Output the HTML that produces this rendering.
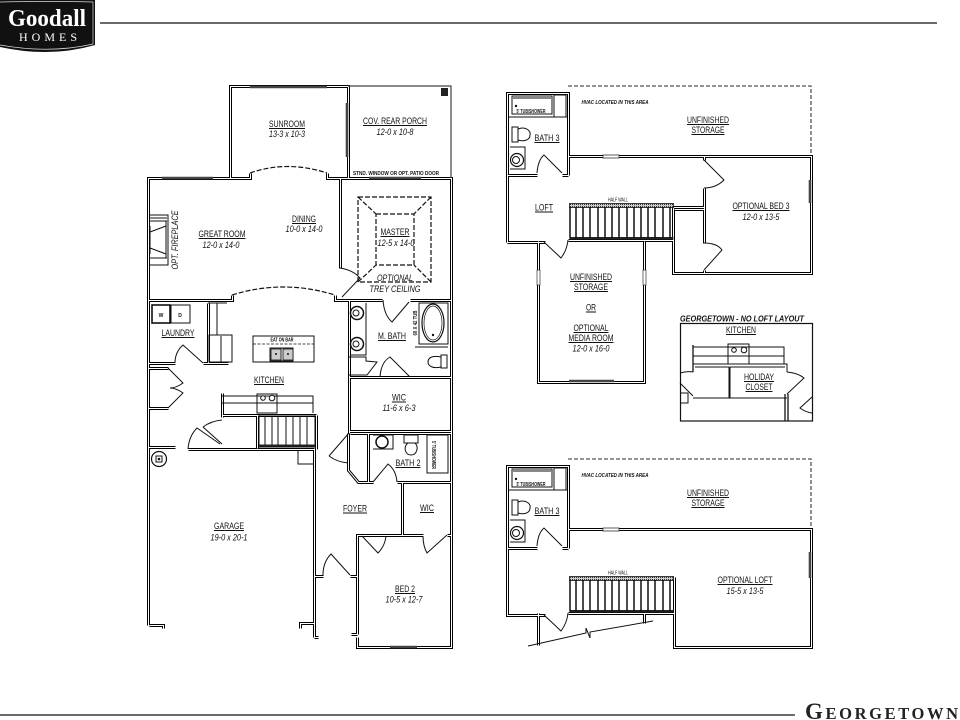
<!DOCTYPE html>
<html><head><meta charset="utf-8"><style>
html,body{margin:0;padding:0;background:#fff;width:960px;height:720px;overflow:hidden}
svg{display:block}
text{font-family:"Liberation Sans",sans-serif;fill:#111}
.l{font-size:9px;text-anchor:middle}
.s{font-size:9px;text-anchor:middle;font-style:italic}
.t{font-size:5px;text-anchor:middle;font-weight:bold}
.th{fill:none;stroke:#111;stroke-width:1}
.ul{fill:none;stroke:#111;stroke-width:.9}
.da{fill:none;stroke:#111;stroke-width:1.2;stroke-dasharray:5 2}
.g{stroke:#444;stroke-width:2.6;fill:none}
</style></head><body>
<svg width="960" height="720" viewBox="0 0 960 720" xmlns="http://www.w3.org/2000/svg">
<defs>
<path id="main" d="M148 625V178H250V173M327 173V178H451V647H357V637M357 634H351M357 634V535H362M386 535H423M447 535H451M230 178V86H348V178M340 178V268M335 295V300H342M382 300H342M410 300H451M148 300H232V295M148 363H175M203 363H228M148 368H168M168 408H148M148 447H175M188 449H314M149 625H163V628M300 628V623H314V449M314 637H318M314 637V449M314 576H323M350 576H357M349 300V433M349 377H451M349 431H451M350 433H368M368 433H451M368 433V482H373M397 482H451M348 433V470L358 482H368M402 482V535M357 535H402M208 303V363M222 393V417M222 415H316M257 415V448M316 415V449"/>
<path id="up1" d="M568 175V93H507V242M507 175H537M562 175H568M568 156H811V273H673V207H704M704 156V160M704 188V243M704 270V273M674 209H704M507 242H545M568 240H673M538 241V382H644V241"/>
<path id="up2" d="M568 548V466H507V615H545M507 548H537M562 548H568M568 529H811V647H674V577M568 613H674M538 613V645M644 613V623"/>
<pattern id="dots" width="2" height="2" patternUnits="userSpaceOnUse"><rect width="2" height="2" fill="#ccc"/><rect width="1" height="1" fill="#333"/></pattern>
<g id="upcommon">
<path class="th" d="M512 96H552V114H512ZM513 98H551M554 95H566V117H554ZM509 117H568M512 127H518V142H512ZM518 129C526 126 531 131 530 135C530 140 524 142 518 140M510 147H525V169H510M537 173Q538 160 544 155L562 173"/>
<circle cx="517" cy="160" r="6.5" fill="#fff" stroke="#111" stroke-width="1.2"/><circle cx="516" cy="160" r="3.5" fill="none" stroke="#111"/>
<circle cx="516" cy="106" r="1.2" fill="#111"/>
<rect x="603" y="155" width="16" height="3" fill="#fff" stroke="#333" stroke-width=".8"/>
<rect x="569.500" y="203.500" width="104" height="4" fill="url(#dots)" stroke="#111" stroke-width=".8"/>
<rect x="569.500" y="237" width="104" height="2.500" fill="#222"/>
<path d="M570 207V238M576 207V238M583 207V238M590 207V238M598 207V238M605 207V238M612 207V238M619 207V238M627 207V238M634 207V238M641 207V238M648 207V238M655 207V238M663 207V238M670 207V238" stroke="#000" stroke-width="1.400" fill="none"/>
<text class="t" x="618" y="201.500" textLength="20" lengthAdjust="spacingAndGlyphs" style="font-weight:normal">HALF WALL</text>
<text class="t" x="615" y="104" font-style="italic" textLength="67" lengthAdjust="spacingAndGlyphs">HVAC LOCATED IN THIS AREA</text>
<text class="t" x="531" y="113" textLength="29" lengthAdjust="spacingAndGlyphs">5' TUB/SHOWER</text>
<text class="l" x="708" y="123" textLength="42" lengthAdjust="spacingAndGlyphs">UNFINISHED</text>
<text class="l" x="708" y="133" textLength="33" lengthAdjust="spacingAndGlyphs">STORAGE</text>
<text class="l" x="547" y="141" textLength="25" lengthAdjust="spacingAndGlyphs">BATH 3</text>
<path class="ul" d="M687 124.500H729M691.500 134.500H724.500M534.500 142.500H559.500"/>
<path d="M568 86H811V155" fill="none" stroke="#555" stroke-width="1.300" stroke-dasharray="4 2"/>
</g>
</defs>

<!-- header -->
<path d="M0 0H95V45Q50 58 0 47Z" fill="#111"/>
<path d="M0 2Q50 1 93 2V44Q50 54 0 45" fill="none" stroke="#ddd" stroke-width=".7"/>
<text x="47" y="26" text-anchor="middle" style="font-family:'Liberation Serif',serif;font-size:24px;font-weight:bold;fill:#fff" textLength="78" lengthAdjust="spacingAndGlyphs">Goodall</text>
<text x="48" y="41" text-anchor="middle" style="font-family:'Liberation Serif',serif;font-size:12px;fill:#fff" textLength="58">HOMES</text>
<path d="M100 23H937" stroke="#111" stroke-width="1.300"/>
<path d="M0 715H795" stroke="#111" stroke-width="1.300"/>
<text x="805" y="719" style="font-family:'Liberation Serif',serif;font-size:16.500px;font-weight:bold;fill:#222" textLength="153"><tspan style="font-size:23px">G</tspan>EORGETOWN</text>

<!-- main floor walls -->
<g transform="translate(.5 .5)">
<use href="#main" fill="none" stroke="#000" stroke-width="3"/>
<use href="#main" fill="none" stroke="#fff" stroke-width="1"/>
</g>
<path d="M348 86H451V178" fill="none" stroke="#444" stroke-width="1.200"/>
<path class="g" d="M250 87H327M347 103V157M162 178H213M369 178H421M390 647H417"/>
<rect x="441" y="88" width="7" height="8" fill="#222"/>
<path class="da" d="M250 173Q287 160 327 173M232 295Q283 279 335 295"/>
<path class="da" d="M358 197H431V282H358ZM376 214H414V265H376ZM358 197L376 214M431 197L414 214M358 282L376 265M431 282L414 265"/>
<!-- doors and fixtures -->
<path class="th" d="M340 268Q353 270 360 278L342 297M383 300Q384 315 392 322L409 302M175 363Q175 352 183 345L203 363M168 368L183 383Q176 388 170 388Q176 388 183 393L168 408M188 449Q189 436 197 428L220 444M203 427Q211 421 222 420M203 427L222 444M329 456L349 433M329 456Q337 462 348 463M373 482L388 464Q396 470 397 482M362 536L378 553Q385 546 386 536M423 536Q423 546 427 553L447 535M323 575Q323 562 331 554L350 575M350 355H366V303M349 357H366V361L377 362L367 375H349M380 377Q381 362 390 357L410 377M419 303H448V344H419ZM415 347H448"/>
<ellipse cx="433" cy="323" rx="11" ry="19" fill="none" stroke="#111" stroke-width="1.200"/><ellipse cx="433" cy="323" rx="9" ry="17" fill="none" stroke="#111" stroke-width=".7"/>
<circle cx="433" cy="335" r="1.200" fill="#111"/>
<circle cx="357" cy="313" r="6.500" fill="#fff" stroke="#111" stroke-width="1.500"/><circle cx="357" cy="344" r="6.500" fill="#fff" stroke="#111" stroke-width="1.500"/>
<circle cx="356" cy="313" r="3" fill="none" stroke="#111"/><circle cx="356" cy="344" r="3" fill="none" stroke="#111"/>
<path class="th" d="M441 355H447V368H441ZM441 357C432 355 428 358 428 362C428 366 433 369 441 367M427 435H448V473H427ZM373 435H393V449H373M404 435H418V443H404ZM408 443C403 447 405 455 411 455C417 455 419 447 415 443"/>
<circle cx="382" cy="442" r="6" fill="#fff" stroke="#111" stroke-width="1.500"/>
<path class="th" d="M171 305H190V323H171ZM227 303H208M217 303V335M209 335H232V362H209ZM221 336V362M253 336H314V362H253ZM270 348H293V361H270ZM281 348V361M222 396H313V413M222 403H313M257 394H277V413H257ZM298 450V464H314M150 215H168V265H150M150 218H167M150 221H167M150 258H167M166 221V258M150 232L166 226M150 248L166 254M150 226V254"/>
<path d="M253 344H314" stroke="#111" stroke-width=".8" stroke-dasharray="3 1.500"/>
<rect x="152" y="305" width="18" height="18" fill="none" stroke="#111" stroke-width="1.600"/>
<rect x="271" y="349" width="10" height="11" fill="#ccc" stroke="#111" stroke-width=".8"/><rect x="283" y="349" width="10" height="11" fill="#ccc" stroke="#111" stroke-width=".8"/>
<circle cx="276" cy="354" r="1" fill="#111"/><circle cx="288" cy="354" r="1" fill="#111"/>
<circle cx="263" cy="398" r="2.300" fill="#fff" stroke="#111"/><circle cx="272" cy="398" r="2.800" fill="#fff" stroke="#111"/>
<path class="th" d="M259 415H315V447H259Z"/>
<path d="M265 416V445M272 416V445M278 416V445M286 416V445M293 416V445M300 416V445M307 416V445" stroke="#111" stroke-width="1" fill="none"/>
<path d="M259 445.500H315" stroke="#222" stroke-width="2"/>
<circle cx="159" cy="459" r="7.500" fill="#fff" stroke="#111" stroke-width="1.200"/><rect x="156" y="456" width="6" height="6" fill="#fff" stroke="#111"/><circle cx="159" cy="459" r="1.300" fill="#111"/>
<!-- main labels -->
<g>
<text class="l" x="287" y="127" textLength="36" lengthAdjust="spacingAndGlyphs">SUNROOM</text>
<text class="s" x="287" y="137" textLength="36" lengthAdjust="spacingAndGlyphs">13-3 x 10-3</text>
<text class="l" x="395" y="124" textLength="64" lengthAdjust="spacingAndGlyphs">COV. REAR PORCH</text>
<text class="s" x="395" y="135" textLength="37" lengthAdjust="spacingAndGlyphs">12-0 x 10-8</text>
<text class="t" x="396" y="174.800" textLength="86" lengthAdjust="spacingAndGlyphs">STND. WINDOW OR OPT. PATIO DOOR</text>
<text class="l" x="304" y="222" textLength="24" lengthAdjust="spacingAndGlyphs">DINING</text>
<text class="s" x="304" y="232" textLength="37" lengthAdjust="spacingAndGlyphs">10-0 x 14-0</text>
<text class="l" x="222" y="237" textLength="47" lengthAdjust="spacingAndGlyphs">GREAT ROOM</text>
<text class="s" x="221" y="248" textLength="37" lengthAdjust="spacingAndGlyphs">12-0 x 14-0</text>
<text class="l" x="395" y="235" textLength="29" lengthAdjust="spacingAndGlyphs">MASTER</text>
<text class="s" x="396" y="246" textLength="37" lengthAdjust="spacingAndGlyphs">12-5 x 14-0</text>
<text class="s" x="395" y="281" textLength="36" lengthAdjust="spacingAndGlyphs">OPTIONAL</text>
<text class="s" x="395" y="292" textLength="51" lengthAdjust="spacingAndGlyphs">TREY CEILING</text>
<text class="s" transform="translate(178 240) rotate(-90)" x="0" y="0" textLength="59" lengthAdjust="spacingAndGlyphs">OPT. FIREPLACE</text>
<text class="l" x="178" y="336" textLength="33" lengthAdjust="spacingAndGlyphs">LAUNDRY</text>
<text class="l" x="269" y="383" textLength="30" lengthAdjust="spacingAndGlyphs">KITCHEN</text>
<text class="l" x="392" y="339" textLength="28" lengthAdjust="spacingAndGlyphs">M. BATH</text>
<text class="l" x="399" y="400.500" textLength="14" lengthAdjust="spacingAndGlyphs">WIC</text>
<text class="s" x="399" y="411" textLength="33" lengthAdjust="spacingAndGlyphs">11-6 x 6-3</text>
<text class="l" x="408" y="466" textLength="25" lengthAdjust="spacingAndGlyphs">BATH 2</text>
<text class="l" x="355" y="511.500" textLength="24" lengthAdjust="spacingAndGlyphs">FOYER</text>
<text class="l" x="427" y="511" textLength="14" lengthAdjust="spacingAndGlyphs">WIC</text>
<text class="l" x="229" y="529" textLength="30" lengthAdjust="spacingAndGlyphs">GARAGE</text>
<text class="s" x="229" y="540.500" textLength="37" lengthAdjust="spacingAndGlyphs">19-0 x 20-1</text>
<text class="l" x="405" y="592" textLength="20" lengthAdjust="spacingAndGlyphs">BED 2</text>
<text class="s" x="404" y="602.500" textLength="37" lengthAdjust="spacingAndGlyphs">10-5 x 12-7</text>
<text class="t" x="282" y="341.500" textLength="23" lengthAdjust="spacingAndGlyphs">EAT ON BAR</text>
<text class="t" x="161" y="317">W</text>
<text class="t" x="180" y="317">D</text>
<text class="t" transform="translate(417 323) rotate(-90)" x="0" y="0" textLength="25" lengthAdjust="spacingAndGlyphs">60 X 42 TUB</text>
<text class="t" transform="translate(432 455) rotate(90)" x="0" y="0" textLength="28" lengthAdjust="spacingAndGlyphs">5' TUB/SHOWER</text>
<path class="ul" d="M269 128.500H305M363 125.500H427M292 223.500H316M198.500 238.500H245.500M380.500 236.500H409.500M161.500 337.500H194.500M254 384.500H284M378 340.500H406M392 402H406M395.500 467.500H420.500M343 513H367M420 512.500H434M214 530.500H244M395 593.500H415"/>
</g>

<!-- upper floor top -->
<g transform="translate(.5 .5)">
<use href="#up1" fill="none" stroke="#000" stroke-width="3"/>
<use href="#up1" fill="none" stroke="#fff" stroke-width="1"/>
</g>
<use href="#upcommon"/>
<path class="th" d="M704 160L724 180Q716 188 704 188M704 243Q717 243 722 250L704 270M544 242L561 258Q567 250 568 240"/>
<rect x="537" y="270" width="3" height="15" fill="#fff" stroke="#333" stroke-width=".7"/>
<rect x="643" y="270" width="3" height="15" fill="#fff" stroke="#333" stroke-width=".7"/>
<path class="g" d="M810 180V203M569 381H614"/>
<text class="l" x="544" y="210.500" textLength="18" lengthAdjust="spacingAndGlyphs">LOFT</text>
<text class="l" x="761" y="209" textLength="57" lengthAdjust="spacingAndGlyphs">OPTIONAL BED 3</text>
<text class="s" x="761" y="220" textLength="37" lengthAdjust="spacingAndGlyphs">12-0 x 13-5</text>
<text class="l" x="591" y="280" textLength="42" lengthAdjust="spacingAndGlyphs">UNFINISHED</text>
<text class="l" x="591" y="290" textLength="34" lengthAdjust="spacingAndGlyphs">STORAGE</text>
<text class="l" x="591" y="310.500" textLength="10" lengthAdjust="spacingAndGlyphs">OR</text>
<text class="l" x="591" y="331" textLength="35" lengthAdjust="spacingAndGlyphs">OPTIONAL</text>
<text class="l" x="591" y="341" textLength="45" lengthAdjust="spacingAndGlyphs">MEDIA ROOM</text>
<text class="s" x="591" y="351.500" textLength="37" lengthAdjust="spacingAndGlyphs">12-0 x 16-0</text>
<path class="ul" d="M535 212H553M732.500 210.500H789.500M570 281.500H612M574 291.500H608M586 312H596M573.500 332.500H608.500M568.500 342.500H613.500"/>

<!-- no loft layout -->
<text x="742" y="321.500" text-anchor="middle" style="font-size:8.500px;font-weight:bold;font-style:italic" textLength="124" lengthAdjust="spacingAndGlyphs">GEORGETOWN - NO LOFT LAYOUT</text>
<rect x="680.500" y="323.500" width="132" height="97.500" fill="none" stroke="#111" stroke-width="1.200"/>
<path class="th" d="M693 347H784V364M693 356H784M693 364H787V372M728 344H749V364H728ZM695 367H729V398M730 367H785M730 367V398M693 398H787M680 373Q687 371 693 372M680 383L693 396M680 393H688V403H680M787 372Q798 373 804 378L787 394M812 397L800 408Q805 412 812 413"/>
<path d="M693 345V372M785 394V421M788 394V421" stroke="#111" stroke-width="1.300" fill="none"/>
<circle cx="734" cy="350" r="2.300" fill="#fff" stroke="#111"/><circle cx="744" cy="350" r="2.800" fill="#fff" stroke="#111"/>
<text class="l" x="741" y="333" textLength="30" lengthAdjust="spacingAndGlyphs">KITCHEN</text>
<text class="l" x="759" y="380" textLength="30" lengthAdjust="spacingAndGlyphs">HOLIDAY</text>
<text class="l" x="759" y="390" textLength="27" lengthAdjust="spacingAndGlyphs">CLOSET</text>
<path class="ul" d="M726 334.500H756M744 381.500H774M745.500 391.500H772.500"/>

<!-- upper floor lower -->
<g transform="translate(.5 .5)">
<use href="#up2" fill="none" stroke="#000" stroke-width="3"/>
<use href="#up2" fill="none" stroke="#fff" stroke-width="1"/>
</g>
<use href="#upcommon" y="373"/>
<path class="th" d="M544 615L561 631Q567 623 568 613M528 646L586 633L586 628L590 638L590 632L653 621"/>
<path class="g" d="M810 552V578"/>
<text class="l" x="745" y="583" textLength="55" lengthAdjust="spacingAndGlyphs">OPTIONAL LOFT</text>
<text class="s" x="745" y="594" textLength="37" lengthAdjust="spacingAndGlyphs">15-5 x 13-5</text>
<path class="ul" d="M717.500 584.500H772.500"/>
</svg>
</body></html>
